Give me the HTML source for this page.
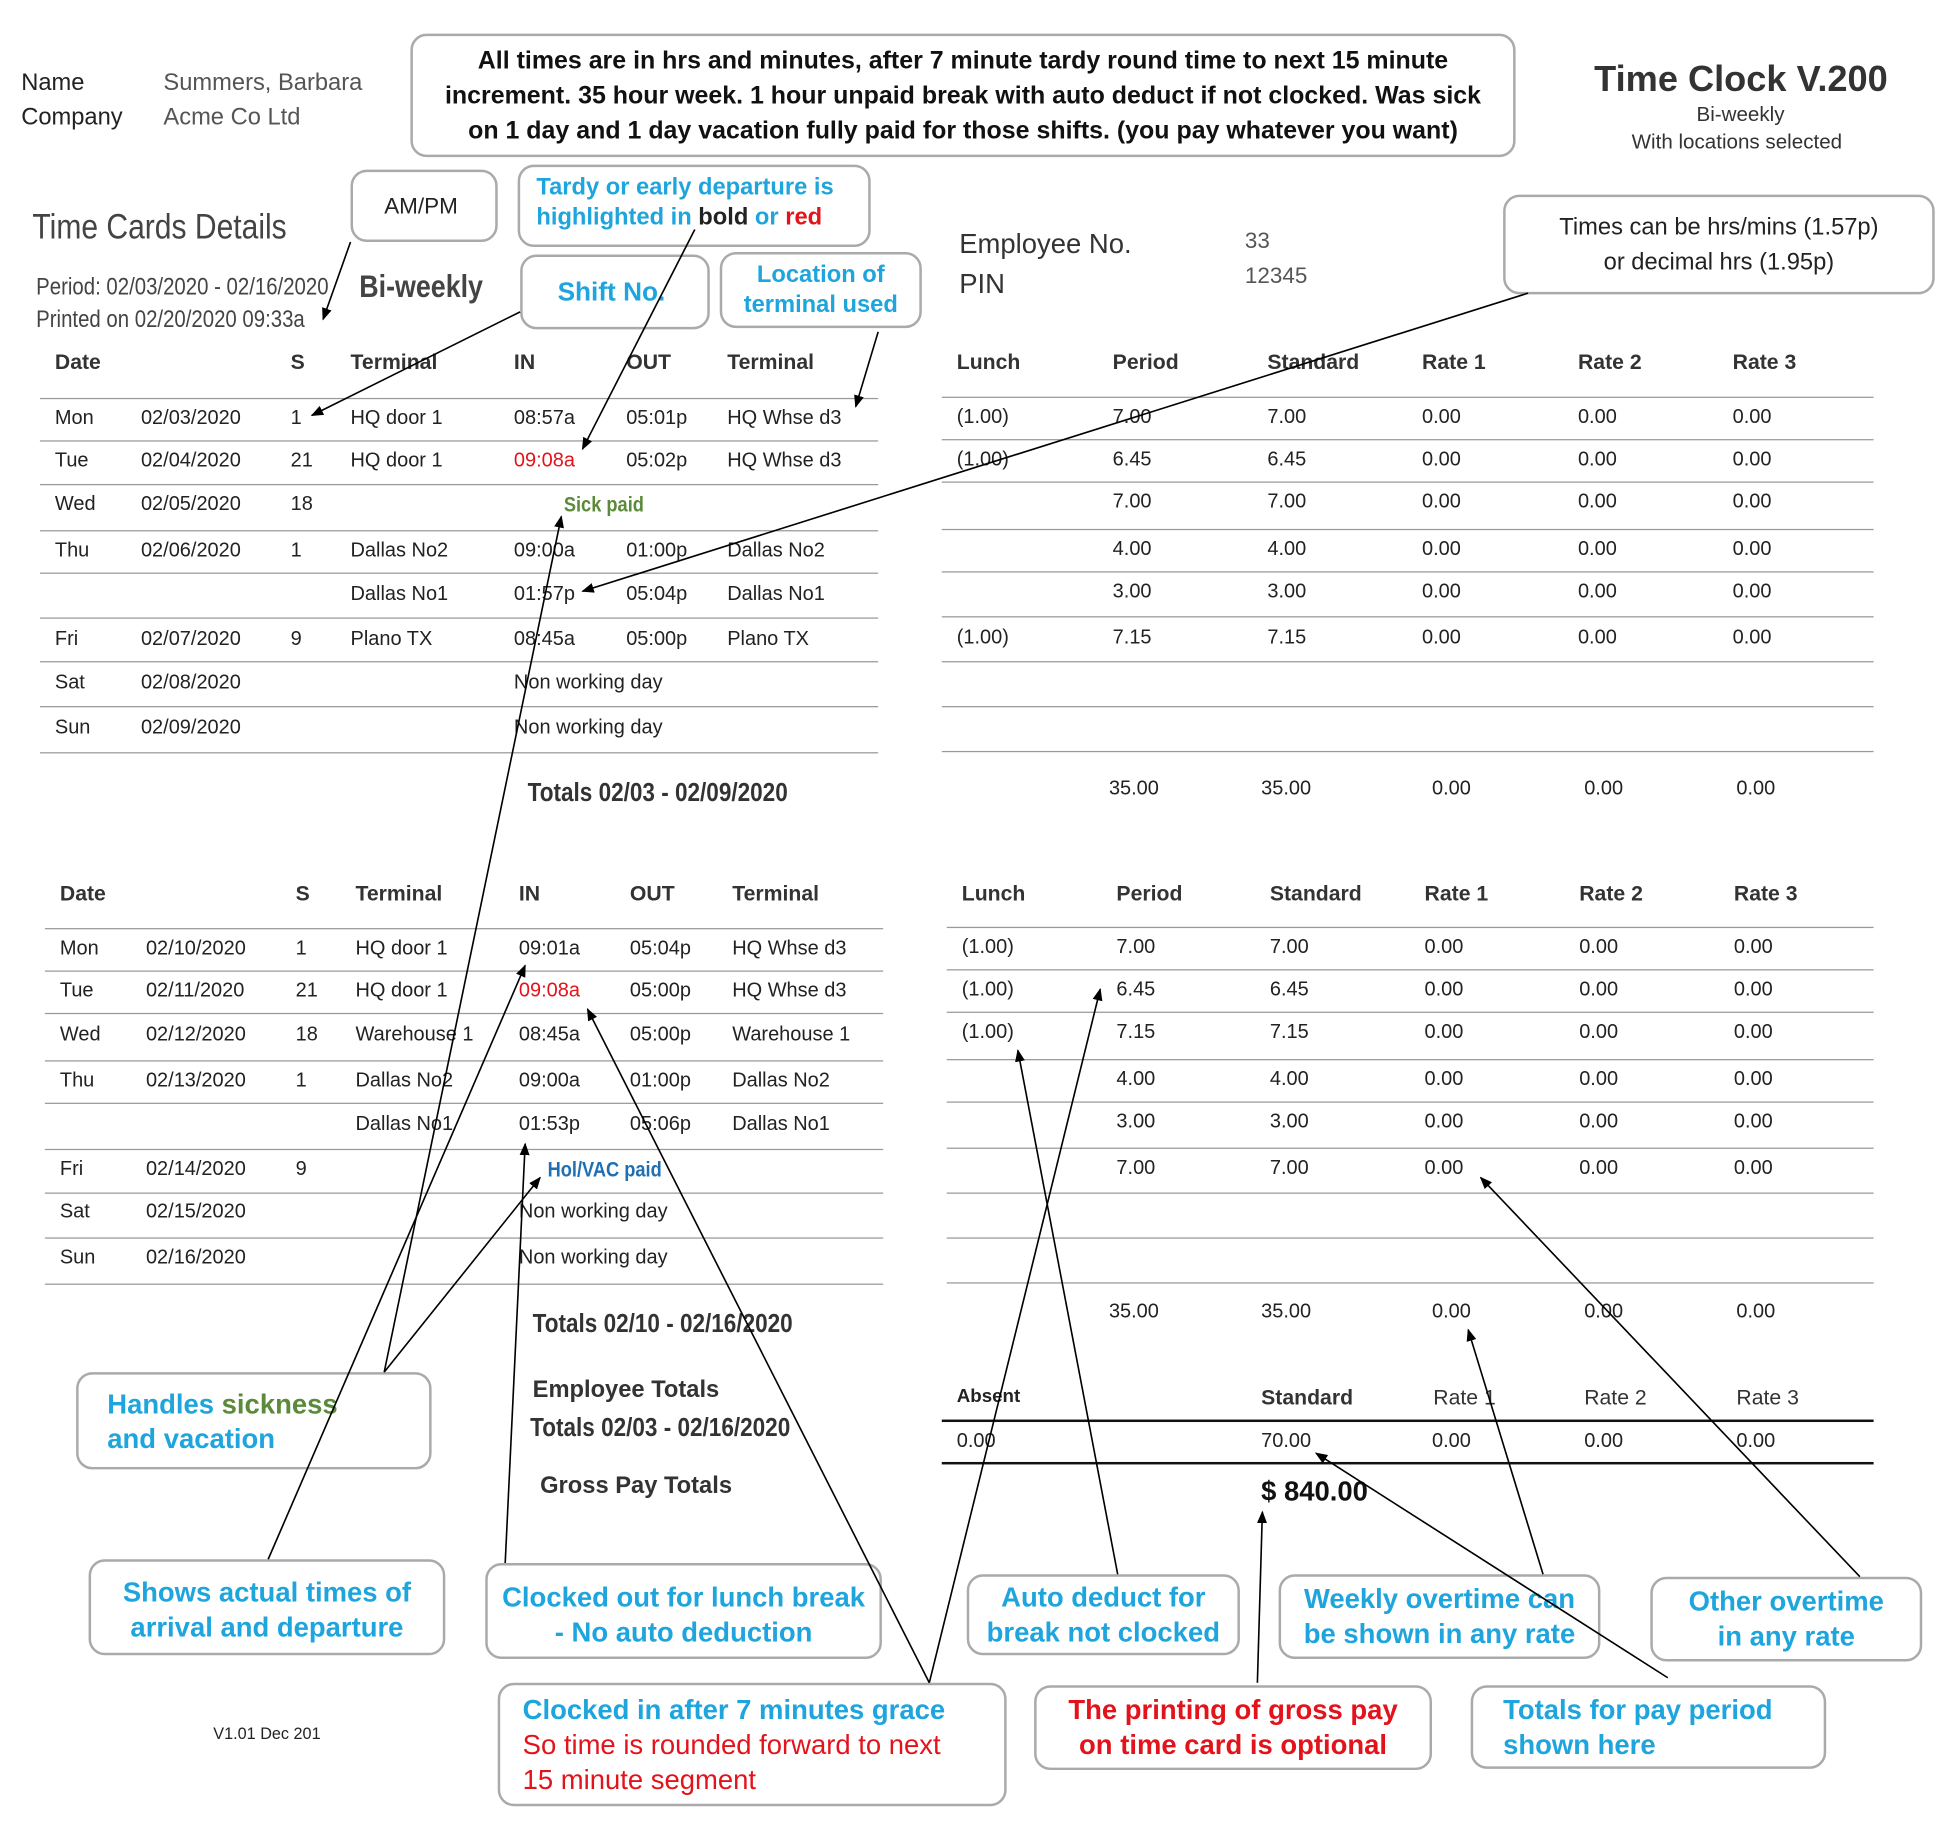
<!DOCTYPE html>
<html><head><meta charset="utf-8">
<style>
html,body{margin:0;padding:0;background:#fff;}
body{width:1956px;height:1844px;overflow:hidden;position:relative;}
#w{position:absolute;left:0;top:0;width:1568px;height:1478px;transform:scale(1.2474);transform-origin:0 0;font-family:"Liberation Sans",sans-serif;color:#222;}
.t{position:absolute;white-space:nowrap;line-height:20px;transform:translateY(-50%);font-size:16px;}
.n{transform:translateY(-50%) scaleX(0.86);transform-origin:0 50%;}
.h{font-weight:bold;font-size:17px;color:#333;}
.box{position:absolute;border:2px solid #aaa;border-radius:13px;box-sizing:border-box;}
.ln{position:absolute;height:1px;background:#999;}
.bl{color:#1ea5dd;font-weight:bold;}
.rd{color:#e3131b;}
.cb{position:absolute;text-align:center;white-space:nowrap;font-weight:bold;font-size:22px;line-height:28px;}
</style></head><body><div id="w">

<div class="t" style="left:17px;top:67px;font-size:19px">Name</div>
<div class="t" style="left:131px;top:67px;font-size:19px;color:#555">Summers, Barbara</div>
<div class="t" style="left:17px;top:95px;font-size:19px">Company</div>
<div class="t" style="left:131px;top:95px;font-size:19px;color:#555">Acme Co Ltd</div>

<div class="box" style="left:329px;top:27px;width:886px;height:99px"></div>
<div class="cb" style="left:329px;top:35px;width:886px;font-size:20px;color:#111">All times are in hrs and minutes, after 7 minute tardy round time to next 15 minute<br>increment. 35 hour week. 1 hour unpaid break with auto deduct if not clocked. Was sick<br>on 1 day and 1 day vacation fully paid for those shifts. (you pay whatever you want)</div>

<div class="t" style="left:1278px;top:64px;font-size:29px;font-weight:bold;color:#333">Time Clock V.200</div>
<div class="t" style="left:1360px;top:92px;font-size:16.5px;color:#333">Bi-weekly</div>
<div class="t" style="left:1308px;top:114px;font-size:16.5px;color:#333">With locations selected</div>

<div class="t n" style="left:26px;top:182px;font-size:28px;color:#444">Time Cards Details</div>
<div class="t n" style="left:29px;top:231px;font-size:19px;color:#444">Period: 02/03/2020 - 02/16/2020</div>
<div class="t n" style="left:29px;top:257px;font-size:19px;color:#444">Printed on 02/20/2020 09:33a</div>
<div class="t n" style="left:288px;top:230px;font-size:25px;font-weight:bold;color:#444">Bi-weekly</div>

<div class="box" style="left:281px;top:136px;width:118px;height:58px"></div>
<div class="t" style="left:308px;top:165px;font-size:18px">AM/PM</div>
<div class="box" style="left:415px;top:132px;width:283px;height:66px"></div>
<div class="t bl" style="left:430px;top:151px;font-size:19px">Tardy or early departure is</div>
<div class="t bl" style="left:430px;top:175px;font-size:19px">highlighted in <span style="color:#222">bold</span> or <span class="rd">red</span></div>
<div class="box" style="left:417px;top:204px;width:152px;height:60px"></div>
<div class="t bl" style="left:447px;top:235px;font-size:21px">Shift No.</div>
<div class="box" style="left:577px;top:202px;width:162px;height:61px"></div>
<div class="cb bl" style="left:577px;top:209px;width:162px;font-size:19px;line-height:24px">Location of<br>terminal used</div>

<div class="t" style="left:769px;top:196px;font-size:22px;color:#333">Employee No.</div>
<div class="t" style="left:769px;top:228px;font-size:22px;color:#333">PIN</div>
<div class="t" style="left:998px;top:193px;font-size:18px;color:#555">33</div>
<div class="t" style="left:998px;top:221px;font-size:18px;color:#555">12345</div>

<div class="box" style="left:1205px;top:156px;width:346px;height:80px"></div>
<div class="cb" style="left:1205px;top:169px;width:346px;font-size:19px;font-weight:normal">Times can be hrs/mins (1.57p)<br>or decimal hrs (1.95p)</div>

<!-- Table 1 -->
<div class="t h" style="left:44px;top:291px">Date</div><div class="t h" style="left:233px;top:291px">S</div><div class="t h" style="left:281px;top:291px">Terminal</div><div class="t h" style="left:412px;top:291px">IN</div><div class="t h" style="left:502px;top:291px">OUT</div><div class="t h" style="left:583px;top:291px">Terminal</div>
<div class="t h" style="left:767px;top:291px">Lunch</div><div class="t h" style="left:892px;top:291px">Period</div><div class="t h" style="left:1016px;top:291px">Standard</div><div class="t h" style="left:1140px;top:291px">Rate 1</div><div class="t h" style="left:1265px;top:291px">Rate 2</div><div class="t h" style="left:1389px;top:291px">Rate 3</div>

<div class="ln" style="left:32px;width:672px;top:319px"></div><div class="ln" style="left:755px;width:747px;top:318px"></div>
<div class="ln" style="left:32px;width:672px;top:353px"></div><div class="ln" style="left:755px;width:747px;top:352px"></div>
<div class="ln" style="left:32px;width:672px;top:388px"></div><div class="ln" style="left:755px;width:747px;top:386px"></div>
<div class="ln" style="left:32px;width:672px;top:425px"></div><div class="ln" style="left:755px;width:747px;top:424px"></div>
<div class="ln" style="left:32px;width:672px;top:459px"></div><div class="ln" style="left:755px;width:747px;top:458px"></div>
<div class="ln" style="left:32px;width:672px;top:495px"></div><div class="ln" style="left:755px;width:747px;top:494px"></div>
<div class="ln" style="left:32px;width:672px;top:530px"></div><div class="ln" style="left:755px;width:747px;top:530px"></div>
<div class="ln" style="left:32px;width:672px;top:566px"></div><div class="ln" style="left:755px;width:747px;top:566px"></div>
<div class="ln" style="left:32px;width:672px;top:603px"></div><div class="ln" style="left:755px;width:747px;top:602px"></div>

<div class="t" style="left:44px;top:336px">Mon</div><div class="t" style="left:113px;top:336px">02/03/2020</div><div class="t" style="left:233px;top:336px">1</div><div class="t" style="left:281px;top:336px">HQ door 1</div><div class="t" style="left:412px;top:336px">08:57a</div><div class="t" style="left:502px;top:336px">05:01p</div><div class="t" style="left:583px;top:336px">HQ Whse d3</div>
<div class="t" style="left:767px;top:335px">(1.00)</div><div class="t" style="left:892px;top:335px">7.00</div><div class="t" style="left:1016px;top:335px">7.00</div><div class="t" style="left:1140px;top:335px">0.00</div><div class="t" style="left:1265px;top:335px">0.00</div><div class="t" style="left:1389px;top:335px">0.00</div>

<div class="t" style="left:44px;top:370px">Tue</div><div class="t" style="left:113px;top:370px">02/04/2020</div><div class="t" style="left:233px;top:370px">21</div><div class="t" style="left:281px;top:370px">HQ door 1</div><div class="t rd" style="left:412px;top:370px">09:08a</div><div class="t" style="left:502px;top:370px">05:02p</div><div class="t" style="left:583px;top:370px">HQ Whse d3</div>
<div class="t" style="left:767px;top:369px">(1.00)</div><div class="t" style="left:892px;top:369px">6.45</div><div class="t" style="left:1016px;top:369px">6.45</div><div class="t" style="left:1140px;top:369px">0.00</div><div class="t" style="left:1265px;top:369px">0.00</div><div class="t" style="left:1389px;top:369px">0.00</div>

<div class="t" style="left:44px;top:405px">Wed</div><div class="t" style="left:113px;top:405px">02/05/2020</div><div class="t" style="left:233px;top:405px">18</div><div class="t n" style="left:452px;top:405px;color:#5a8a3a;font-weight:bold;font-size:17px">Sick paid</div>
<div class="t" style="left:892px;top:403px">7.00</div><div class="t" style="left:1016px;top:403px">7.00</div><div class="t" style="left:1140px;top:403px">0.00</div><div class="t" style="left:1265px;top:403px">0.00</div><div class="t" style="left:1389px;top:403px">0.00</div>

<div class="t" style="left:44px;top:442px">Thu</div><div class="t" style="left:113px;top:442px">02/06/2020</div><div class="t" style="left:233px;top:442px">1</div><div class="t" style="left:281px;top:442px">Dallas No2</div><div class="t" style="left:412px;top:442px">09:00a</div><div class="t" style="left:502px;top:442px">01:00p</div><div class="t" style="left:583px;top:442px">Dallas No2</div>
<div class="t" style="left:892px;top:441px">4.00</div><div class="t" style="left:1016px;top:441px">4.00</div><div class="t" style="left:1140px;top:441px">0.00</div><div class="t" style="left:1265px;top:441px">0.00</div><div class="t" style="left:1389px;top:441px">0.00</div>

<div class="t" style="left:281px;top:477px">Dallas No1</div><div class="t" style="left:412px;top:477px">01:57p</div><div class="t" style="left:502px;top:477px">05:04p</div><div class="t" style="left:583px;top:477px">Dallas No1</div>
<div class="t" style="left:892px;top:475px">3.00</div><div class="t" style="left:1016px;top:475px">3.00</div><div class="t" style="left:1140px;top:475px">0.00</div><div class="t" style="left:1265px;top:475px">0.00</div><div class="t" style="left:1389px;top:475px">0.00</div>

<div class="t" style="left:44px;top:513px">Fri</div><div class="t" style="left:113px;top:513px">02/07/2020</div><div class="t" style="left:233px;top:513px">9</div><div class="t" style="left:281px;top:513px">Plano TX</div><div class="t" style="left:412px;top:513px">08:45a</div><div class="t" style="left:502px;top:513px">05:00p</div><div class="t" style="left:583px;top:513px">Plano TX</div>
<div class="t" style="left:767px;top:512px">(1.00)</div><div class="t" style="left:892px;top:512px">7.15</div><div class="t" style="left:1016px;top:512px">7.15</div><div class="t" style="left:1140px;top:512px">0.00</div><div class="t" style="left:1265px;top:512px">0.00</div><div class="t" style="left:1389px;top:512px">0.00</div>

<div class="t" style="left:44px;top:548px">Sat</div><div class="t" style="left:113px;top:548px">02/08/2020</div><div class="t" style="left:412px;top:548px">Non working day</div>
<div class="t" style="left:44px;top:584px">Sun</div><div class="t" style="left:113px;top:584px">02/09/2020</div><div class="t" style="left:412px;top:584px">Non working day</div>

<div class="t n" style="left:423px;top:636px;font-size:21px;font-weight:bold;color:#333">Totals 02/03 - 02/09/2020</div>
<div class="t" style="left:889px;top:633px">35.00</div><div class="t" style="left:1011px;top:633px">35.00</div><div class="t" style="left:1148px;top:633px">0.00</div><div class="t" style="left:1270px;top:633px">0.00</div><div class="t" style="left:1392px;top:633px">0.00</div>

<!-- Table 2 -->
<div class="t h" style="left:48px;top:717px">Date</div><div class="t h" style="left:237px;top:717px">S</div><div class="t h" style="left:285px;top:717px">Terminal</div><div class="t h" style="left:416px;top:717px">IN</div><div class="t h" style="left:505px;top:717px">OUT</div><div class="t h" style="left:587px;top:717px">Terminal</div>
<div class="t h" style="left:771px;top:717px">Lunch</div><div class="t h" style="left:895px;top:717px">Period</div><div class="t h" style="left:1018px;top:717px">Standard</div><div class="t h" style="left:1142px;top:717px">Rate 1</div><div class="t h" style="left:1266px;top:717px">Rate 2</div><div class="t h" style="left:1390px;top:717px">Rate 3</div>

<div class="ln" style="left:36px;width:672px;top:744px"></div><div class="ln" style="left:759px;width:743px;top:743px"></div>
<div class="ln" style="left:36px;width:672px;top:778px"></div><div class="ln" style="left:759px;width:743px;top:777px"></div>
<div class="ln" style="left:36px;width:672px;top:812px"></div><div class="ln" style="left:759px;width:743px;top:811px"></div>
<div class="ln" style="left:36px;width:672px;top:850px"></div><div class="ln" style="left:759px;width:743px;top:849px"></div>
<div class="ln" style="left:36px;width:672px;top:884px"></div><div class="ln" style="left:759px;width:743px;top:883px"></div>
<div class="ln" style="left:36px;width:672px;top:921px"></div><div class="ln" style="left:759px;width:743px;top:920px"></div>
<div class="ln" style="left:36px;width:672px;top:956px"></div><div class="ln" style="left:759px;width:743px;top:956px"></div>
<div class="ln" style="left:36px;width:672px;top:992px"></div><div class="ln" style="left:759px;width:743px;top:992px"></div>
<div class="ln" style="left:36px;width:672px;top:1029px"></div><div class="ln" style="left:759px;width:743px;top:1028px"></div>

<div class="t" style="left:48px;top:761px">Mon</div><div class="t" style="left:117px;top:761px">02/10/2020</div><div class="t" style="left:237px;top:761px">1</div><div class="t" style="left:285px;top:761px">HQ door 1</div><div class="t" style="left:416px;top:761px">09:01a</div><div class="t" style="left:505px;top:761px">05:04p</div><div class="t" style="left:587px;top:761px">HQ Whse d3</div>
<div class="t" style="left:771px;top:760px">(1.00)</div><div class="t" style="left:895px;top:760px">7.00</div><div class="t" style="left:1018px;top:760px">7.00</div><div class="t" style="left:1142px;top:760px">0.00</div><div class="t" style="left:1266px;top:760px">0.00</div><div class="t" style="left:1390px;top:760px">0.00</div>

<div class="t" style="left:48px;top:795px">Tue</div><div class="t" style="left:117px;top:795px">02/11/2020</div><div class="t" style="left:237px;top:795px">21</div><div class="t" style="left:285px;top:795px">HQ door 1</div><div class="t rd" style="left:416px;top:795px">09:08a</div><div class="t" style="left:505px;top:795px">05:00p</div><div class="t" style="left:587px;top:795px">HQ Whse d3</div>
<div class="t" style="left:771px;top:794px">(1.00)</div><div class="t" style="left:895px;top:794px">6.45</div><div class="t" style="left:1018px;top:794px">6.45</div><div class="t" style="left:1142px;top:794px">0.00</div><div class="t" style="left:1266px;top:794px">0.00</div><div class="t" style="left:1390px;top:794px">0.00</div>

<div class="t" style="left:48px;top:830px">Wed</div><div class="t" style="left:117px;top:830px">02/12/2020</div><div class="t" style="left:237px;top:830px">18</div><div class="t" style="left:285px;top:830px">Warehouse 1</div><div class="t" style="left:416px;top:830px">08:45a</div><div class="t" style="left:505px;top:830px">05:00p</div><div class="t" style="left:587px;top:830px">Warehouse 1</div>
<div class="t" style="left:771px;top:828px">(1.00)</div><div class="t" style="left:895px;top:828px">7.15</div><div class="t" style="left:1018px;top:828px">7.15</div><div class="t" style="left:1142px;top:828px">0.00</div><div class="t" style="left:1266px;top:828px">0.00</div><div class="t" style="left:1390px;top:828px">0.00</div>

<div class="t" style="left:48px;top:867px">Thu</div><div class="t" style="left:117px;top:867px">02/13/2020</div><div class="t" style="left:237px;top:867px">1</div><div class="t" style="left:285px;top:867px">Dallas No2</div><div class="t" style="left:416px;top:867px">09:00a</div><div class="t" style="left:505px;top:867px">01:00p</div><div class="t" style="left:587px;top:867px">Dallas No2</div>
<div class="t" style="left:895px;top:866px">4.00</div><div class="t" style="left:1018px;top:866px">4.00</div><div class="t" style="left:1142px;top:866px">0.00</div><div class="t" style="left:1266px;top:866px">0.00</div><div class="t" style="left:1390px;top:866px">0.00</div>

<div class="t" style="left:285px;top:902px">Dallas No1</div><div class="t" style="left:416px;top:902px">01:53p</div><div class="t" style="left:505px;top:902px">05:06p</div><div class="t" style="left:587px;top:902px">Dallas No1</div>
<div class="t" style="left:895px;top:900px">3.00</div><div class="t" style="left:1018px;top:900px">3.00</div><div class="t" style="left:1142px;top:900px">0.00</div><div class="t" style="left:1266px;top:900px">0.00</div><div class="t" style="left:1390px;top:900px">0.00</div>

<div class="t" style="left:48px;top:938px">Fri</div><div class="t" style="left:117px;top:938px">02/14/2020</div><div class="t" style="left:237px;top:938px">9</div><div class="t n" style="left:439px;top:938px;color:#1f6fb5;font-weight:bold;font-size:17px">Hol/VAC paid</div>
<div class="t" style="left:895px;top:937px">7.00</div><div class="t" style="left:1018px;top:937px">7.00</div><div class="t" style="left:1142px;top:937px">0.00</div><div class="t" style="left:1266px;top:937px">0.00</div><div class="t" style="left:1390px;top:937px">0.00</div>

<div class="t" style="left:48px;top:972px">Sat</div><div class="t" style="left:117px;top:972px">02/15/2020</div><div class="t" style="left:416px;top:972px">Non working day</div>
<div class="t" style="left:48px;top:1009px">Sun</div><div class="t" style="left:117px;top:1009px">02/16/2020</div><div class="t" style="left:416px;top:1009px">Non working day</div>

<div class="t n" style="left:427px;top:1062px;font-size:21px;font-weight:bold;color:#333">Totals 02/10 - 02/16/2020</div>
<div class="t" style="left:889px;top:1052px">35.00</div><div class="t" style="left:1011px;top:1052px">35.00</div><div class="t" style="left:1148px;top:1052px">0.00</div><div class="t" style="left:1270px;top:1052px">0.00</div><div class="t" style="left:1392px;top:1052px">0.00</div>

<div class="t" style="left:427px;top:1115px;font-size:19px;font-weight:bold;color:#333">Employee Totals</div>
<div class="t n" style="left:425px;top:1145px;font-size:21px;font-weight:bold;color:#333">Totals 02/03 - 02/16/2020</div>
<div class="t" style="left:433px;top:1192px;font-size:19px;font-weight:bold;color:#333">Gross Pay Totals</div>

<div class="t" style="left:767px;top:1120px;font-weight:bold;font-size:15px">Absent</div>
<div class="t h" style="left:1011px;top:1121px">Standard</div>
<div class="t" style="left:1149px;top:1121px;font-size:17px;color:#333">Rate 1</div>
<div class="t" style="left:1270px;top:1121px;font-size:17px;color:#333">Rate 2</div>
<div class="t" style="left:1392px;top:1121px;font-size:17px;color:#333">Rate 3</div>
<div class="ln" style="left:755px;width:747px;top:1138px;height:2px;background:#111"></div>
<div class="t" style="left:767px;top:1156px">0.00</div><div class="t" style="left:1011px;top:1156px">70.00</div><div class="t" style="left:1148px;top:1156px">0.00</div><div class="t" style="left:1270px;top:1156px">0.00</div><div class="t" style="left:1392px;top:1156px">0.00</div>
<div class="ln" style="left:755px;width:747px;top:1172px;height:2px;background:#111"></div>
<div class="t" style="left:1011px;top:1196px;font-size:22px;font-weight:bold;color:#111">$ 840.00</div>

<div class="t" style="left:171px;top:1390px;font-size:13px">V1.01 Dec 201</div>

<!-- callouts -->
<div class="box" style="left:61px;top:1100px;width:285px;height:78px"></div>
<div class="t bl" style="left:86px;top:1126px;font-size:22px">Handles <span style="color:#5a8a3a">sickness</span></div>
<div class="t bl" style="left:86px;top:1154px;font-size:22px">and vacation</div>

<div class="box" style="left:71px;top:1250px;width:286px;height:77px"></div>
<div class="cb bl" style="left:71px;top:1263px;width:286px">Shows actual times of<br>arrival and departure</div>

<div class="box" style="left:389px;top:1253px;width:318px;height:77px"></div>
<div class="cb bl" style="left:389px;top:1267px;width:318px">Clocked out for lunch break<br>- No auto deduction</div>

<div class="box" style="left:399px;top:1349px;width:408px;height:99px"></div>
<div class="t bl" style="left:419px;top:1371px;font-size:22px">Clocked in after 7 minutes grace</div>
<div class="t rd" style="left:419px;top:1399px;font-size:22px">So time is rounded forward to next</div>
<div class="t rd" style="left:419px;top:1427px;font-size:22px">15 minute segment</div>

<div class="box" style="left:775px;top:1262px;width:219px;height:65px"></div>
<div class="cb bl" style="left:775px;top:1267px;width:219px">Auto deduct for<br>break not clocked</div>

<div class="box" style="left:1025px;top:1262px;width:258px;height:68px"></div>
<div class="cb bl" style="left:1025px;top:1268px;width:258px">Weekly overtime can<br>be shown in any rate</div>

<div class="box" style="left:1323px;top:1264px;width:218px;height:68px"></div>
<div class="cb bl" style="left:1323px;top:1270px;width:218px">Other overtime<br>in any rate</div>

<div class="box" style="left:829px;top:1351px;width:319px;height:68px"></div>
<div class="cb rd" style="left:829px;top:1357px;width:319px">The printing of gross pay<br>on time card is optional</div>

<div class="box" style="left:1179px;top:1351px;width:285px;height:67px"></div>
<div class="t bl" style="left:1205px;top:1371px;font-size:22px">Totals for pay period</div>
<div class="t bl" style="left:1205px;top:1399px;font-size:22px">shown here</div>

<svg style="position:absolute;left:0;top:0" width="1568" height="1478">
<defs><marker id="a" markerWidth="10" markerHeight="8" refX="9" refY="4" orient="auto" markerUnits="userSpaceOnUse"><path d="M0,0 L10,4 L0,8 z" fill="#000"/></marker></defs>
<g stroke="#000" stroke-width="1.3" fill="none" marker-end="url(#a)">
<line x1="281" y1="194" x2="259" y2="256"/>
<line x1="417" y1="250" x2="250" y2="333"/>
<line x1="704" y1="266" x2="686" y2="326"/>
<line x1="557" y1="184" x2="467" y2="360"/>
<line x1="1225" y1="235" x2="467" y2="474"/>
<line x1="308" y1="1100" x2="450" y2="414"/>
<line x1="308" y1="1100" x2="433" y2="944"/>
<line x1="215" y1="1250" x2="421" y2="774"/>
<line x1="405" y1="1253" x2="421" y2="917"/>
<line x1="745" y1="1349" x2="471" y2="809"/>
<line x1="745" y1="1349" x2="882" y2="793"/>
<line x1="896" y1="1262" x2="816" y2="842"/>
<line x1="1008" y1="1349" x2="1012" y2="1212"/>
<line x1="1237" y1="1262" x2="1177" y2="1066"/>
<line x1="1491" y1="1264" x2="1187" y2="944"/>
<line x1="1337" y1="1345" x2="1055" y2="1165"/>
</g></svg>
</div></body></html>
